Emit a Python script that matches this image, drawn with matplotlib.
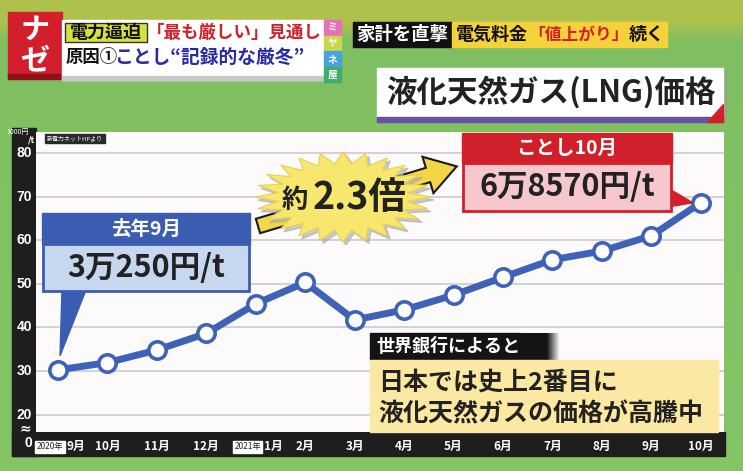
import numpy as np
import matplotlib
matplotlib.use("Agg")
import matplotlib.pyplot as plt
from matplotlib.patches import Rectangle, Polygon, FancyArrow
from matplotlib.transforms import offset_copy

plt.rcParams['font.family'] = ['Noto Sans CJK JP', 'DejaVu Sans']

# ---------------- data ----------------
months = ["9月", "10月", "11月", "12月", "1月", "2月", "3月", "4月",
          "5月", "6月", "7月", "8月", "9月", "10月"]
prices = [30.25, 31.9, 34.8, 38.6, 45.4, 50.3, 41.7, 44.0,
          47.4, 51.5, 55.5, 57.5, 61.0, 68.57]   # 1000円/t
year_marks = {0: "2020年", 4: "2021年"}
yticks = [20, 30, 40, 50, 60, 70, 80]

W, H = 743, 471
fig = plt.figure(figsize=(W / 100, H / 100), dpi=100)
renderer = fig.canvas.get_renderer()

# ---------------- background (pixel coords) ----------------
bg = fig.add_axes([0, 0, 1, 1], zorder=0)
bg.set_xlim(0, W); bg.set_ylim(H, 0); bg.axis('off')
grad = np.zeros((H, 1, 3))
top = np.array([0.68, 0.76, 0.30])
mid = np.array([0.50, 0.75, 0.38])
bot = np.array([0.52, 0.77, 0.40])
for i in range(H):
    if i < 22:
        grad[i, 0] = top
    elif i < 40:
        t = (i - 22) / 18
        grad[i, 0] = top * (1 - t) + mid * t
    else:
        t = (i - 40) / (H - 40)
        grad[i, 0] = mid * (1 - t) + bot * t
bg.imshow(grad, extent=[0, W, H, 0], aspect='auto', zorder=0)

# dark frame of the chart
bg.add_patch(Rectangle((12, 128), 24, 328, color='#1e1e1e', zorder=1))
bg.add_patch(Rectangle((12, 432), 713, 24, color='#1e1e1e', zorder=1))

# ---------------- chart axes ----------------
L, R, T, B = 36, 724, 132, 432
ax = fig.add_axes([L / W, (H - B) / H, (R - L) / W, (B - T) / H], zorder=2)
ax.set_facecolor('#fdfafc')
x = np.arange(len(months))
ax.set_xlim(-0.445, 13.47)
ax.set_ylim(16.0, 84.8)
for yv in yticks:
    ax.axhline(yv, color='#c9c6cc', lw=1.1, zorder=1)
ax.plot(x, prices, color='#3d62b8', lw=5, marker='o', ms=12.5,
        mfc='white', mec='#3d62b8', mew=2.6, zorder=3, solid_capstyle='round')
ax.set_xticks([]); ax.set_yticks([])
for s in ax.spines.values():
    s.set_visible(False)

# y tick labels in left band
for yv in yticks:
    ax.text(-0.52, yv, str(yv), transform=ax.transData, ha='right', va='center',
            color='white', fontsize=10, fontweight='bold', clip_on=False,
            family=['Liberation Sans', 'DejaVu Sans'])

# x tick labels in bottom band
for i, m in enumerate(months):
    if i in year_marks:
        tr = offset_copy(ax.transData, fig=fig, x=18, y=0, units='dots')
        ax.text(i, 12.6, m, transform=tr, ha='center', va='center', color='white',
                fontsize=8.5, fontweight='bold', clip_on=False)
        tr2 = offset_copy(ax.transData, fig=fig, x=-8, y=0, units='dots')
        ax.text(i, 12.6, year_marks[i], transform=tr2, ha='center', va='center',
                color='#222', fontsize=6, clip_on=False,
                bbox=dict(boxstyle='square,pad=0.15', fc='white', ec='white'))
    else:
        ax.text(i, 12.6, m, ha='center', va='center', color='white',
                fontsize=8.5, fontweight='bold', clip_on=False)


def px(i, v):
    d = ax.transData.transform((i, v))
    return d[0], H - d[1]

# ---------------- overlay (pixel coords) ----------------
ov = fig.add_axes([0, 0, 1, 1], zorder=5)
ov.set_xlim(0, W); ov.set_ylim(H, 0); ov.axis('off')
ov.patch.set_alpha(0)


def fit(xp, yp, s, maxw, size, **kw):
    """place text, shrink until its width fits maxw pixels; return width."""
    t = ov.text(xp, yp, s, fontsize=size, **kw)
    w = t.get_window_extent(renderer).width
    if w > maxw:
        t.set_fontsize(size * maxw / w)
        w = t.get_window_extent(renderer).width
    return t, w


bold = 'bold'
# axis unit, 0 and break sign
ov.text(18, 132, "1000円", color='white', fontsize=5, ha='center', va='center')
ov.text(31, 140, "/t", color='white', fontsize=6.5, ha='center', va='center', fontweight=bold)
ov.text(31, 428, "≈", color='white', fontsize=10, ha='right', va='center', fontweight=bold,
        family=['DejaVu Sans'])
ov.text(32, 443, "0", color='white', fontsize=10, ha='right', va='center', fontweight=bold,
        family=['Liberation Sans', 'DejaVu Sans'])
ov.text(75, 138.5, "新電力ネットHPより", color='white', fontsize=4.3, ha='center', va='center',
        bbox=dict(boxstyle='square,pad=0.25', fc='#2a2a2a', ec='#2a2a2a'))

# ---- header ----
ov.add_patch(Rectangle((8, 12), 54, 66, color='#d21f2b'))
ov.add_patch(Rectangle((8, 74), 54, 5, color='#8e1018'))
ov.text(35, 30, "ナ", color='white', fontsize=21, fontweight=bold, ha='center', va='center')
ov.text(35, 60, "ゼ", color='white', fontsize=21, fontweight=bold, ha='center', va='center')
ov.add_patch(Rectangle((62, 20), 261, 60, color='white'))
ov.add_patch(Rectangle((62, 76), 261, 4, color='#c8c8c8'))
ov.add_patch(Rectangle((65, 23), 82, 19, fc='#d6e23c', ec='#333', lw=1))
fit(106, 32.5, "電力逼迫", 78, 13, color='#111', fontweight=bold, ha='center', va='center')
fit(147, 32.5, "「最も厳しい」見通し", 174, 13, color='#d2202a', fontweight=bold,
    ha='left', va='center')
t1, w1 = fit(66, 57, "原因①", 52, 13.5, color='#111', fontweight=bold, ha='left', va='center')
x2 = 66 + w1 - 4
fit(x2, 57, "ことし“記録的な厳冬”", 320 - x2, 13.5, color='#2a2aa6',
    fontweight=bold, ha='left', va='center')
strip = [("ミ", '#e472b4'), ("ヤ", '#c9d64a'), ("ネ", '#47a3da'), ("屋", '#3fae68')]
for k, (ch, c) in enumerate(strip):
    ov.add_patch(Rectangle((324, 20 + k * 15.5), 17, 15.5, color=c))
    ov.text(332.5, 28 + k * 15.5, ch, color='white', fontsize=7, ha='center', va='center',
            fontweight=bold)

ov.add_patch(Rectangle((353, 22), 99, 25, color='#111'))
fit(402, 34.5, "家計を直撃", 92, 13.5, color='white', fontweight=bold, ha='center', va='center')
ov.add_patch(Rectangle((452, 22), 215, 25, color='#f6d23a'))
ta, wa = fit(456, 34.5, "電気料金", 72, 13, color='#111', fontweight=bold,
             ha='left', va='center')
tb, wb = fit(456 + wa, 34.5, "「値上がり」", 100, 13, color='#d2202a', fontweight=bold,
             ha='left', va='center')
fit(456 + wa + wb, 34.5, "続く", 665 - (456 + wa + wb), 13, color='#111', fontweight=bold,
    ha='left', va='center')

# ---- title ----
ov.add_patch(Rectangle((380, 71), 346, 50, color='#9a9a9a', alpha=0.5))
ov.add_patch(Rectangle((377, 68), 346, 49, color='white'))
ov.add_patch(Rectangle((377, 117), 346, 5, color='#6b4fa0'))
ov.add_patch(Polygon([(723, 104), (723, 122), (707, 122)], color='#d2202a'))
fit(551, 92, "液化天然ガス(LNG)価格", 336, 22, color='#222', fontweight=bold,
    ha='center', va='center')

# ---- blue callout (first point) ----
tipx, tipy = px(0, prices[0])
ov.add_patch(Polygon([(62, 290), (86, 290), (tipx + 2, tipy - 14)], color='#3a5db2'))
ov.add_patch(Rectangle((42, 213), 208, 31, color='#3a5db2'))
ov.add_patch(Rectangle((43, 244), 206, 47, fc='#c8d7f0', ec='#3a5db2', lw=2))
ov.text(146, 229, "去年9月", color='white', fontsize=14, fontweight=bold, ha='center', va='center')
ov.text(146, 268, "3万250円/t", color='#222', fontsize=22, fontweight=bold,
        ha='center', va='center')

# ---- red callout (last point) ----
lx, ly = px(len(prices) - 1, prices[-1])
ov.add_patch(Polygon([(668, 188), (668, 207), (lx - 8, ly)], color='#d2202a'))
ov.add_patch(Rectangle((462, 133), 210, 30, color='#d2202a'))
ov.add_patch(Rectangle((463, 163), 208, 48, fc='#f6c8cd', ec='#d2202a', lw=2))
ov.text(567, 148.5, "ことし10月", color='white', fontsize=14, fontweight=bold,
        ha='center', va='center')
ov.text(567, 187, "6万8570円/t", color='#222', fontsize=22, fontweight=bold,
        ha='center', va='center')

# ---- arrow + starburst ----
ov.add_patch(FancyArrow(258, 226, 170, -51, width=15, head_width=38, head_length=30,
                        length_includes_head=False, fc='#f3d548', ec='#1a1a1a', lw=1.5))
n = 24
ang = np.linspace(0, 2 * np.pi, 2 * n, endpoint=False)
rad = np.where(np.arange(2 * n) % 2 == 0, 1.0, 0.74)
cx, cy, rx, ry = 343, 197, 88, 45
sx = cx + rx * rad * np.cos(ang)
sy = cy + ry * rad * np.sin(ang)
ov.add_patch(Polygon(np.c_[sx + 3, sy + 3], color='#a8a8a8', alpha=0.6))
ov.add_patch(Polygon(np.c_[sx, sy], fc='#f8e76f', ec='#e8d050', lw=0.8))
ov.text(295, 201, "約", color='#222', fontsize=19, fontweight=bold, ha='center', va='center')
ov.text(360, 198, "2.3倍", color='#222', fontsize=27, fontweight=bold, ha='center', va='center')

# ---- world bank note ----
grad2 = np.zeros((1, 60, 4))
grad2[0, :, :3] = 0.08
grad2[0, :, 3] = np.r_[np.ones(40), np.linspace(1, 0, 20)]
ov.add_patch(Rectangle((370, 333), 150, 27, color='#141414'))
ov.imshow(grad2, extent=[520, 560, 360, 333], aspect='auto', zorder=2)
ov.text(376, 347, "世界銀行によると", color='white', fontsize=13, fontweight=bold,
        ha='left', va='center', zorder=3)
ov.add_patch(Rectangle((370, 360), 348, 72, color='#fbe8a3', zorder=2))
ov.text(378, 383, "日本では史上2番目に", color='#222', fontsize=18, fontweight=bold,
        ha='left', va='center', zorder=3)
ov.text(378, 414, "液化天然ガスの価格が高騰中", color='#222', fontsize=18, fontweight=bold,
        ha='left', va='center', zorder=3)
ov.set_xlim(0, W); ov.set_ylim(H, 0)

fig.savefig("out.png", dpi=100)
